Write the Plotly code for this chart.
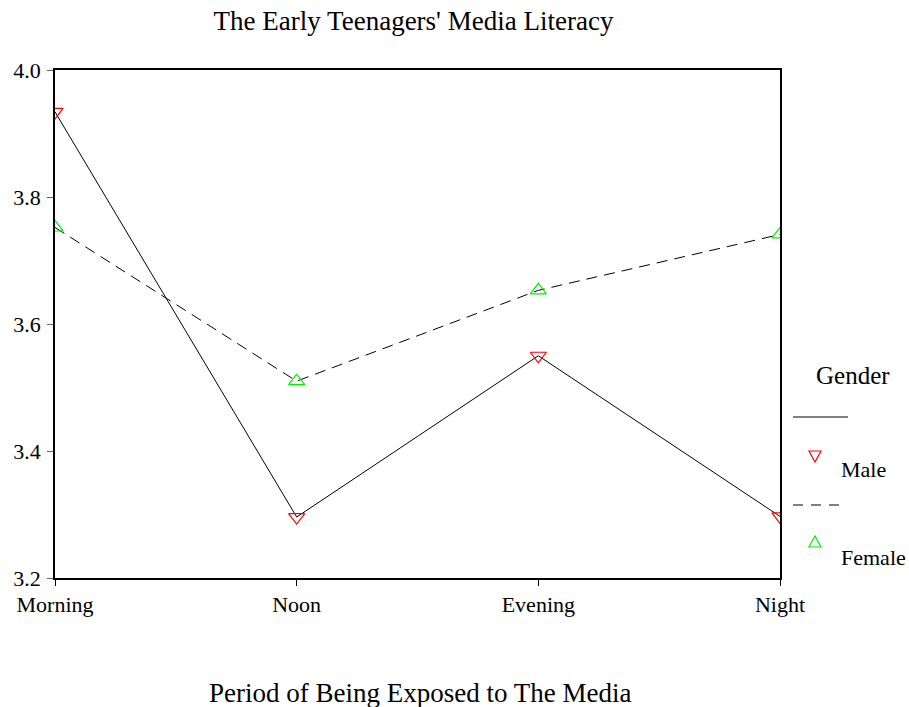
import plotly.graph_objects as go

periods = ["Morning", "Noon", "Evening", "Night"]
male = [3.934, 3.296, 3.550, 3.297]
female = [3.752, 3.510, 3.653, 3.741]
y_ticks = [3.2, 3.4, 3.6, 3.8, 4.0]
y_tick_labels = ["3.2", "3.4", "3.6", "3.8", "4.0"]
legend_title = "Gender"
series_names = ["Male", "Female"]

xs = list(range(len(periods)))
font = "Liberation Serif, Times New Roman, serif"

W, H = 909, 707
L, R, T, B = 55, 129, 70, 129
PW, PH = W - L - R, H - T - B


def px(xf):
    return (xf - L) / PW


def py(yf):
    return (H - B - yf) / PH


fig = go.Figure()
fig.add_trace(go.Scatter(
    x=xs, y=male, name=series_names[0], mode="lines+markers",
    line=dict(color="black", width=1),
    marker=dict(symbol="triangle-down-open", size=14, color="red", line=dict(width=1.2)),
    showlegend=False,
))
fig.add_trace(go.Scatter(
    x=xs, y=female, name=series_names[1], mode="lines+markers",
    line=dict(color="black", width=1, dash="11px,7px"),
    marker=dict(symbol="triangle-up-open", size=14, color="#00ee00", line=dict(width=1.2)),
    showlegend=False,
))

# custom legend (layout like the reference)
shapes = [
    dict(type="line", xref="paper", yref="paper", x0=px(793), x1=px(848), y0=py(417), y1=py(417),
         line=dict(color="black", width=1)),
    dict(type="line", xref="paper", yref="paper", x0=px(793), x1=px(845), y0=py(505), y1=py(505),
         line=dict(color="black", width=1, dash="10px,8px")),
    dict(type="path", xref="paper", yref="paper", xsizemode="pixel", ysizemode="pixel",
         xanchor=px(815), yanchor=py(456), path="M -6,5 L 6,5 L 0,-6 Z",
         line=dict(color="red", width=1.2), fillcolor="rgba(0,0,0,0)"),
    dict(type="path", xref="paper", yref="paper", xsizemode="pixel", ysizemode="pixel",
         xanchor=px(815), yanchor=py(542), path="M -6,-5 L 6,-5 L 0,6 Z",
         line=dict(color="#00ee00", width=1.2), fillcolor="rgba(0,0,0,0)"),
]
annotations = [
    dict(text=legend_title, xref="paper", yref="paper", x=px(853), y=py(375),
         xanchor="center", yanchor="middle", showarrow=False, font=dict(size=25)),
    dict(text=series_names[0], xref="paper", yref="paper", x=px(839), y=py(470),
         xanchor="left", yanchor="middle", showarrow=False, font=dict(size=22)),
    dict(text=series_names[1], xref="paper", yref="paper", x=px(839), y=py(557),
         xanchor="left", yanchor="middle", showarrow=False, font=dict(size=22)),
    dict(text="Period of Being Exposed to The Media", xref="paper", yref="paper",
         x=px(420), y=py(693), xanchor="center", yanchor="middle", showarrow=False,
         font=dict(size=27)),
]

fig.update_layout(
    width=W, height=H,
    margin=dict(l=L, r=R, t=T, b=B, autoexpand=False),
    paper_bgcolor="white", plot_bgcolor="white",
    font=dict(family=font, size=22, color="black"),
    title=dict(text="The Early Teenagers' Media Literacy", x=413.5 / W, xanchor="center",
               y=1 - 21 / H, yanchor="middle", font=dict(size=27)),
    showlegend=False,
    shapes=shapes,
    annotations=annotations,
    xaxis=dict(
        tickmode="array", tickvals=xs, ticktext=periods, range=[0, 3],
        showline=True, linecolor="black", linewidth=1.5, mirror=True,
        ticks="outside", ticklen=6, tickcolor="black", showgrid=False, zeroline=False,
        tickfont=dict(size=22), ticklabelstandoff=0, automargin=False,
    ),
    yaxis=dict(
        tickmode="array", tickvals=y_ticks, ticktext=y_tick_labels, range=[3.2, 4.0],
        showline=True, linecolor="black", linewidth=1.5, mirror=True,
        ticks="outside", ticklen=6, tickcolor="#666", showgrid=False, zeroline=False,
        tickfont=dict(size=22), ticklabelstandoff=2, automargin=False,
    ),
)

fig.write_html("out.html", config={"displayModeBar": False},
               post_script="document.body.style.margin='0';")
